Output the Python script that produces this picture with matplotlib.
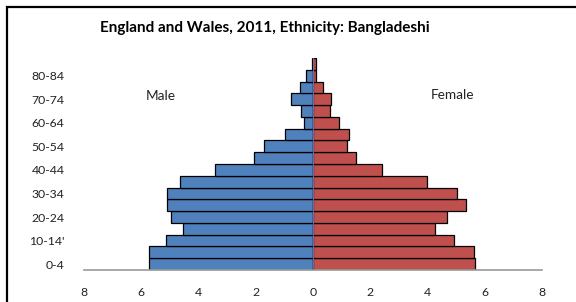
import numpy as np
import matplotlib.pyplot as plt
from matplotlib.patches import Rectangle

# age groups bottom to top
ages = ["0-4", "5-9", "10-14'", "15-19", "20-24", "25-29", "30-34", "35-39",
        "40-44", "45-49", "50-54", "55-59", "60-64", "65-69", "70-74",
        "75-79", "80-84", "85+"]
male = [5.73, 5.73, 5.13, 4.55, 4.95, 5.10, 5.10, 4.63, 3.41, 2.07,
        1.71, 0.97, 0.30, 0.43, 0.78, 0.46, 0.24, 0.04]
female = [5.67, 5.62, 4.92, 4.26, 4.68, 5.34, 5.04, 3.98, 2.40, 1.50,
          1.19, 1.27, 0.92, 0.60, 0.64, 0.36, 0.12, 0.09]
xticks = [-8, -6, -4, -2, 0, 2, 4, 6, 8]

plt.rcParams['font.family'] = ['Lato', 'DejaVu Sans']

fig = plt.figure(figsize=(5.76, 3.02), dpi=100)
ax = fig.add_axes([84/576, 32/302, 458/576, 212/302])

y = np.arange(len(ages))
ax.barh(y, [-m for m in male], height=1.0, color='#4F81BD',
        edgecolor='black', linewidth=0.9)
ax.barh(y, female, height=1.0, color='#C0504D',
        edgecolor='black', linewidth=0.9)
# soften the dark edge line along zero
ax.axvline(0, color='#6E6A9A', linewidth=0.8, zorder=3)

ax.set_xlim(-8, 8)
ax.set_ylim(-0.5, len(ages) - 0.5)
ax.set_xticks(xticks)
ax.set_xticklabels([str(abs(t)) for t in xticks], fontsize=8.8, color='#222222')
ax.set_yticks(y[::2])
ax.set_yticklabels(ages[::2], fontsize=8.8, color='#222222')
ax.tick_params(length=0)
ax.tick_params(axis='y', pad=14)
ax.tick_params(axis='x', pad=12)

for s in ['top', 'right', 'left']:
    ax.spines[s].set_visible(False)
ax.spines['bottom'].set_color('#999999')
ax.spines['bottom'].set_linewidth(1.2)

ax.text(-5.33, 14.3, "Male", fontsize=9.8, color='#222222', ha='center', va='center')
ax.text(4.88, 14.35, "Female", fontsize=9.8, color='#222222', ha='center', va='center')

fig.text(265/576, 1 - 28/302, "England and Wales, 2011, Ethnicity: Bangladeshi",
         fontsize=11, fontweight='bold', ha='center', va='center')

# outer frame (cropped on right and bottom)
fig.patches.append(Rectangle((7/576, -0.1), 1.2, 1 - 7/302 + 0.1,
                             transform=fig.transFigure, fill=False,
                             edgecolor='black', linewidth=1.6))

fig.savefig("out.png", dpi=100)
